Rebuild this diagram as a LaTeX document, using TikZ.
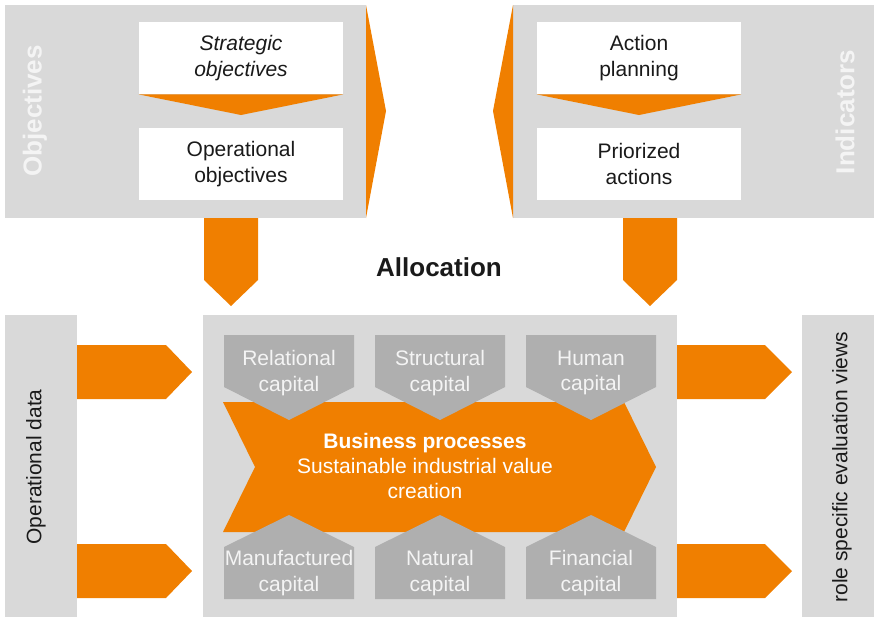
\documentclass[tikz,border=0pt]{standalone}
\usepackage{fontspec}
\setmainfont{Liberation Sans}
\usetikzlibrary{calc}

\definecolor{orangeA}{RGB}{240,127,0}
\definecolor{greyBg}{RGB}{217,217,217}
\definecolor{greyCap}{RGB}{175,175,175}
\definecolor{textLight}{RGB}{244,244,244}
\definecolor{textDark}{RGB}{26,26,26}

\tikzset{
    bodytext/.style={align=center, font=\fontsize{10.5}{12.7}\selectfont},
    headtext/.style={font=\fontsize{13}{15}\selectfont\bfseries},
    whitebox/.style={bodytext, fill=white, text=textDark, minimum width=102pt, minimum height=36pt, inner sep=0pt},
    captext/.style={bodytext, text=textLight, inner sep=0pt},
}

\begin{document}
\begin{tikzpicture}[x=0.5pt, y=-0.5pt]
    \useasboundingbox (0,0) rectangle (874,617);

    % grey panels
    \fill[greyBg] (5,5) rectangle (366,218);
    \fill[greyBg] (513,5) rectangle (874,218);
    \fill[greyBg] (5,315) rectangle (77,617);
    \fill[greyBg] (203,315) rectangle (677,617);
    \fill[greyBg] (802,315) rectangle (874,617);

    % top panels
    \node[headtext, text=textLight, rotate=90] (obj) at (35,111) {Objectives};
    \node[headtext, text=textLight, rotate=90] (ind) at (845,112) {Indicators};
    \node[whitebox, font=\fontsize{10.5}{12.7}\selectfont\itshape] (strat) at (241,58) {Strategic\\objectives};
    \node[whitebox] (oper) at (241,164) {Operational\\objectives};
    \node[whitebox] (plan) at (639,58) {Action\\planning};
    \node[whitebox] (prio) at (639,164) {Priorized\\actions};

    \fill[orangeA] (strat.south west) -- (strat.south east) -- (241,115) -- cycle;
    \fill[orangeA] (plan.south west) -- (plan.south east) -- (639,115) -- cycle;
    \fill[orangeA] (366,5) -- (386,111) -- (366,218) -- cycle;
    \fill[orangeA] (513,5) -- (493,111) -- (513,218) -- cycle;

    % arrows down
    \fill[orangeA] (204,218) -- (258,218) -- (258,280) -- (231,306) -- (204,280) -- cycle;
    \fill[orangeA] (623,218) -- (677,218) -- (677,280) -- (650,306) -- (623,280) -- cycle;
    \node[headtext, text=textDark] (alloc) at (439,267) {Allocation};

    % side arrows
    \fill[orangeA] (77,345) -- (166,345) -- (192,372) -- (166,399) -- (77,399) -- cycle;
    \fill[orangeA] (77,544) -- (166,544) -- (192,571) -- (166,598) -- (77,598) -- cycle;
    \fill[orangeA] (677,345) -- (765,345) -- (792,372) -- (765,399) -- (677,399) -- cycle;
    \fill[orangeA] (677,544) -- (765,544) -- (792,571) -- (765,598) -- (677,598) -- cycle;
    \node[bodytext, text=textDark, rotate=90] (opdata) at (36,467) {Operational data};
    \node[bodytext, text=textDark, rotate=90] (roleviews) at (842,467) {role specific evaluation views};

    % business processes
    \fill[orangeA] (223,402) -- (624,402) -- (656,467) -- (624,532) -- (223,532) -- (255,467) -- cycle;
    \node[bodytext, text=white] (bizproc) at (425,466) {\textbf{Business processes}\\Sustainable industrial value\\creation};

    % capitals
    \fill[greyCap] (224,335) -- (354,335) -- (354,387) -- (289,420) -- (224,387) -- cycle;
    \fill[greyCap] (375,335) -- (505,335) -- (505,387) -- (440,420) -- (375,387) -- cycle;
    \fill[greyCap] (526,335) -- (656,335) -- (656,387) -- (591,420) -- (526,387) -- cycle;
    \fill[greyCap] (224,599) -- (224,547) -- (289,515) -- (354,547) -- (354,599) -- cycle;
    \fill[greyCap] (375,599) -- (375,547) -- (440,515) -- (505,547) -- (505,599) -- cycle;
    \fill[greyCap] (526,599) -- (526,547) -- (591,515) -- (656,547) -- (656,599) -- cycle;
    \node[captext] (relcap) at (289,373) {Relational\\capital};
    \node[captext] (strucap) at (440,373) {Structural\\capital};
    \node[captext] (humcap) at (591,373) {Human\\capital};
    \node[captext] (mancap) at (289,573) {Manufactured\\capital};
    \node[captext] (natcap) at (440,573) {Natural\\capital};
    \node[captext] (fincap) at (591,573) {Financial\\capital};
\end{tikzpicture}
\end{document}
